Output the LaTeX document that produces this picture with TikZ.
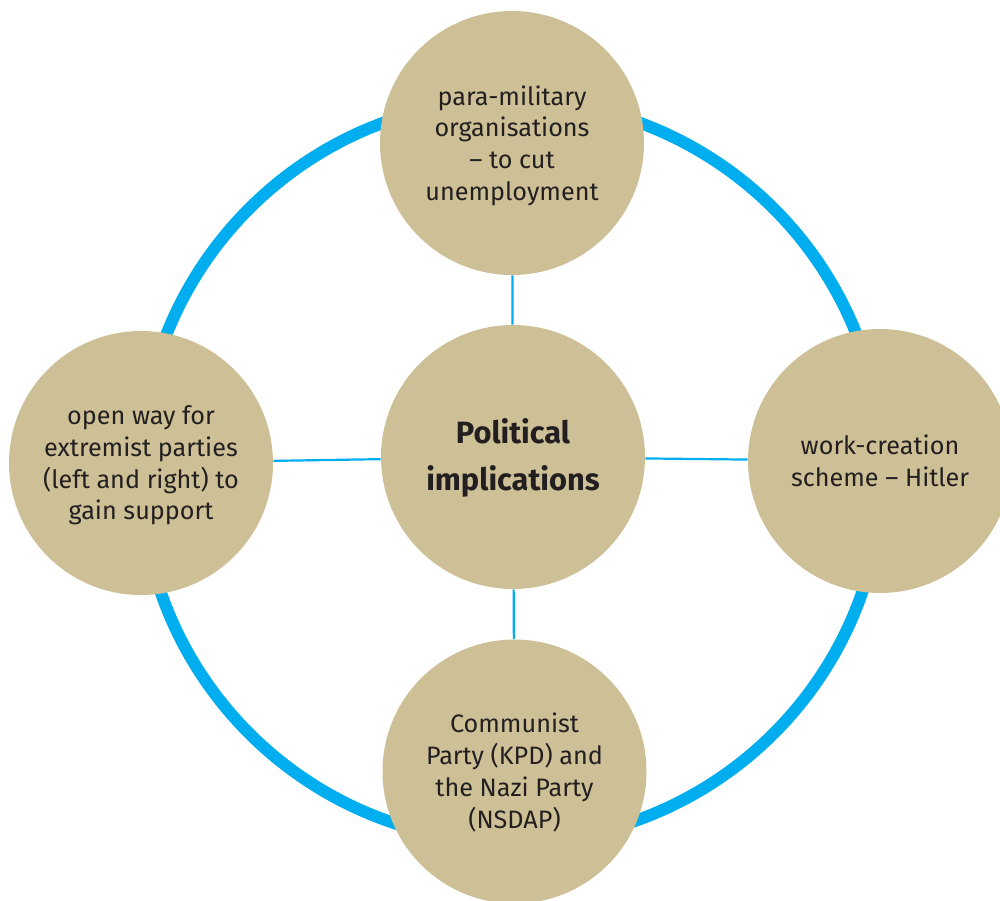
\documentclass[tikz,border=0pt]{standalone}
\usepackage{fontspec}
\setmainfont{Fira Sans}
\begin{document}
\begin{tikzpicture}[x=0.5pt,y=-0.5pt,
  ringcol/.style={draw=cyanblue,line width=6pt},
  conn/.style={draw=cyanblue,line width=1.1pt},
  bubble/.style={circle,fill=tanfill,minimum size=132pt,inner sep=0pt},
  txt/.style={align=center,text=textdark,inner sep=0pt,font=\fontsize{12.6}{15.85}\selectfont},
  maintxt/.style={txt,font=\fontsize{15.4}{23.5}\selectfont\bfseries}]
\definecolor{cyanblue}{RGB}{0,174,239}
\definecolor{tanfill}{RGB}{206,192,150}
\definecolor{textdark}{RGB}{35,31,32}
\useasboundingbox (0,0) rectangle (1000,900);
\draw[ringcol] (511.5,471) circle[radius=185.5pt];
\node[bubble] (c) at (513,457) {};
\node[bubble] (t) at (512,143) {};
\node[bubble] (l) at (141,463) {};
\node[bubble] (r) at (880,461) {};
\node[bubble] (b) at (514.5,771.5) {};
\node[maintxt] (ctext) at ([yshift=-0.5pt]c.center) {Political\\implications};
\node[txt] (ttext) at ([yshift=-1.2pt]t.center) {para-military\\organisations\\– to cut\\unemployment};
\node[txt] (ltext) at ([yshift=-1.2pt]l.center) {open way for\\extremist parties\\(left and right) to\\gain support};
\node[txt] (rtext) at (r.center) {work-creation\\scheme – Hitler};
\node[txt] (btext) at ([yshift=-0.5pt]b.center) {Communist\\Party (KPD) and\\the Nazi Party\\(NSDAP)};
\draw[conn] (c) -- (t);
\draw[conn] (c) -- (l);
\draw[conn] (c) -- (r);
\draw[conn] (c) -- (b);
\end{tikzpicture}
\end{document}
